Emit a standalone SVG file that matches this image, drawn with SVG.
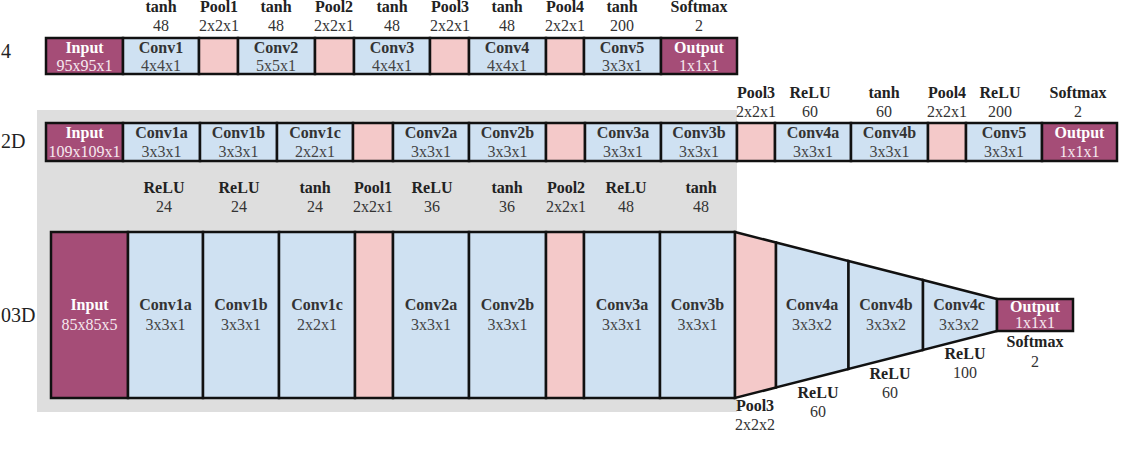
<svg xmlns="http://www.w3.org/2000/svg" width="1125" height="466" viewBox="0 0 1125 466">
<style>
text{font-family:"Liberation Serif","Times New Roman",serif;font-size:16px;text-anchor:middle}
.lb{font-weight:bold;fill:#222}
.lr{fill:#333}
.nb{font-weight:bold;fill:#333}
.nr{fill:#444}
.wb{font-weight:bold;fill:#ffffff}
.wr{fill:#f6e8ef}
.io{fill:#a54d77;stroke:#111;stroke-width:2.5}
.cv{fill:#cfe1f2;stroke:#111;stroke-width:2.5}
.pl{fill:#f4c9c9;stroke:#111;stroke-width:2.5}
.side{font-size:20px;fill:#222;text-anchor:start}
</style>
<rect width="1125" height="466" fill="#ffffff"/>
<rect x="37" y="110" width="700" height="302" fill="#dedede"/>
<text class="side" x="1" y="58">4</text>
<text class="side" x="1" y="148">2D</text>
<text class="side" x="1" y="322">03D</text>

<g id="row1">
<g id="r1-input"><rect class="io" x="46" y="38" width="77" height="36"/><text class="wb" x="84.5" y="53">Input</text><text class="wr" x="84.5" y="71">95x95x1</text></g>
<g id="r1-conv1"><text class="lb" x="161" y="12">tanh</text><text class="lr" x="161" y="31">48</text><rect class="cv" x="123" y="38" width="76" height="36"/><text class="nb" x="161" y="53">Conv1</text><text class="nr" x="161" y="71">4x4x1</text></g>
<g id="r1-pool1"><text class="lb" x="219" y="12">Pool1</text><text class="lr" x="219" y="31">2x2x1</text><rect class="pl" x="199" y="38" width="39" height="36"/></g>
<g id="r1-conv2"><text class="lb" x="276" y="12">tanh</text><text class="lr" x="276" y="31">48</text><rect class="cv" x="238" y="38" width="77" height="36"/><text class="nb" x="276" y="53">Conv2</text><text class="nr" x="276" y="71">5x5x1</text></g>
<g id="r1-pool2"><text class="lb" x="334" y="12">Pool2</text><text class="lr" x="334" y="31">2x2x1</text><rect class="pl" x="315" y="38" width="39" height="36"/></g>
<g id="r1-conv3"><text class="lb" x="392" y="12">tanh</text><text class="lr" x="392" y="31">48</text><rect class="cv" x="354" y="38" width="76" height="36"/><text class="nb" x="392" y="53">Conv3</text><text class="nr" x="392" y="71">4x4x1</text></g>
<g id="r1-pool3"><text class="lb" x="450" y="12">Pool3</text><text class="lr" x="450" y="31">2x2x1</text><rect class="pl" x="430" y="38" width="39" height="36"/></g>
<g id="r1-conv4"><text class="lb" x="507" y="12">tanh</text><text class="lr" x="507" y="31">48</text><rect class="cv" x="469" y="38" width="77" height="36"/><text class="nb" x="507" y="53">Conv4</text><text class="nr" x="507" y="71">4x4x1</text></g>
<g id="r1-pool4"><text class="lb" x="565" y="12">Pool4</text><text class="lr" x="565" y="31">2x2x1</text><rect class="pl" x="546" y="38" width="38" height="36"/></g>
<g id="r1-conv5"><text class="lb" x="622" y="12">tanh</text><text class="lr" x="622" y="31">200</text><rect class="cv" x="584" y="38" width="77" height="36"/><text class="nb" x="622" y="53">Conv5</text><text class="nr" x="622" y="71">3x3x1</text></g>
<g id="r1-output"><text class="lb" x="699" y="12">Softmax</text><text class="lr" x="699" y="31">2</text><rect class="io" x="661" y="38" width="76" height="36"/><text class="wb" x="699" y="53">Output</text><text class="wr" x="699" y="71">1x1x1</text></g>
</g>

<g id="row2">
<g id="r2-input"><rect class="io" x="46" y="123" width="77" height="38"/><text class="wb" x="84.5" y="138">Input</text><text class="wr" x="84.5" y="157">109x109x1</text></g>
<g id="r2-conv1a"><rect class="cv" x="123" y="123" width="77" height="38"/><text class="nb" x="161.5" y="138">Conv1a</text><text class="nr" x="161.5" y="157">3x3x1</text></g>
<g id="r2-conv1b"><rect class="cv" x="200" y="123" width="77" height="38"/><text class="nb" x="238.5" y="138">Conv1b</text><text class="nr" x="238.5" y="157">3x3x1</text></g>
<g id="r2-conv1c"><rect class="cv" x="277" y="123" width="76" height="38"/><text class="nb" x="315" y="138">Conv1c</text><text class="nr" x="315" y="157">2x2x1</text></g>
<g id="r2-pool1"><rect class="pl" x="353" y="123" width="40" height="38"/></g>
<g id="r2-conv2a"><rect class="cv" x="393" y="123" width="76" height="38"/><text class="nb" x="431" y="138">Conv2a</text><text class="nr" x="431" y="157">3x3x1</text></g>
<g id="r2-conv2b"><rect class="cv" x="469" y="123" width="77" height="38"/><text class="nb" x="507.5" y="138">Conv2b</text><text class="nr" x="507.5" y="157">3x3x1</text></g>
<g id="r2-pool2"><rect class="pl" x="546" y="123" width="39" height="38"/></g>
<g id="r2-conv3a"><rect class="cv" x="585" y="123" width="76" height="38"/><text class="nb" x="623" y="138">Conv3a</text><text class="nr" x="623" y="157">3x3x1</text></g>
<g id="r2-conv3b"><rect class="cv" x="661" y="123" width="76" height="38"/><text class="nb" x="699" y="138">Conv3b</text><text class="nr" x="699" y="157">3x3x1</text></g>
<g id="r2-pool3"><text class="lb" x="756" y="98">Pool3</text><text class="lr" x="756" y="117">2x2x1</text><rect class="pl" x="737" y="123" width="38" height="38"/></g>
<g id="r2-conv4a"><text class="lb" x="810" y="98">ReLU</text><text class="lr" x="810" y="117">60</text><rect class="cv" x="775" y="123" width="76" height="38"/><text class="nb" x="813" y="138">Conv4a</text><text class="nr" x="813" y="157">3x3x1</text></g>
<g id="r2-conv4b"><text class="lb" x="884" y="98">tanh</text><text class="lr" x="884" y="117">60</text><rect class="cv" x="851" y="123" width="77" height="38"/><text class="nb" x="889.5" y="138">Conv4b</text><text class="nr" x="889.5" y="157">3x3x1</text></g>
<g id="r2-pool4"><text class="lb" x="947" y="98">Pool4</text><text class="lr" x="947" y="117">2x2x1</text><rect class="pl" x="928" y="123" width="38" height="38"/></g>
<g id="r2-conv5"><text class="lb" x="1000" y="98">ReLU</text><text class="lr" x="1000" y="117">200</text><rect class="cv" x="966" y="123" width="76" height="38"/><text class="nb" x="1004" y="138">Conv5</text><text class="nr" x="1004" y="157">3x3x1</text></g>
<g id="r2-output"><text class="lb" x="1078" y="98">Softmax</text><text class="lr" x="1078" y="117">2</text><rect class="io" x="1042" y="123" width="75" height="38"/><text class="wb" x="1079.5" y="138">Output</text><text class="wr" x="1079.5" y="157">1x1x1</text></g>
</g>

<g id="row3">
<g id="r3-input"><rect class="io" x="51" y="232" width="77" height="166"/><text class="wb" x="89.5" y="310">Input</text><text class="wr" x="89.5" y="330">85x85x5</text></g>
<g id="r3-conv1a"><text class="lb" x="164" y="193">ReLU</text><text class="lr" x="164" y="212">24</text><rect class="cv" x="128" y="232" width="75" height="166"/><text class="nb" x="165.5" y="310">Conv1a</text><text class="nr" x="165.5" y="330">3x3x1</text></g>
<g id="r3-conv1b"><text class="lb" x="239" y="193">ReLU</text><text class="lr" x="239" y="212">24</text><rect class="cv" x="203" y="232" width="76" height="166"/><text class="nb" x="241" y="310">Conv1b</text><text class="nr" x="241" y="330">3x3x1</text></g>
<g id="r3-conv1c"><text class="lb" x="315" y="193">tanh</text><text class="lr" x="315" y="212">24</text><rect class="cv" x="279" y="232" width="76" height="166"/><text class="nb" x="317" y="310">Conv1c</text><text class="nr" x="317" y="330">2x2x1</text></g>
<g id="r3-pool1"><text class="lb" x="373" y="193">Pool1</text><text class="lr" x="373" y="212">2x2x1</text><rect class="pl" x="355" y="232" width="38" height="166"/></g>
<g id="r3-conv2a"><text class="lb" x="432" y="193">ReLU</text><text class="lr" x="432" y="212">36</text><rect class="cv" x="393" y="232" width="76" height="166"/><text class="nb" x="431" y="310">Conv2a</text><text class="nr" x="431" y="330">3x3x1</text></g>
<g id="r3-conv2b"><text class="lb" x="507" y="193">tanh</text><text class="lr" x="507" y="212">36</text><rect class="cv" x="469" y="232" width="77" height="166"/><text class="nb" x="507.5" y="310">Conv2b</text><text class="nr" x="507.5" y="330">3x3x1</text></g>
<g id="r3-pool2"><text class="lb" x="566" y="193">Pool2</text><text class="lr" x="566" y="212">2x2x1</text><rect class="pl" x="546" y="232" width="38" height="166"/></g>
<g id="r3-conv3a"><text class="lb" x="626" y="193">ReLU</text><text class="lr" x="626" y="212">48</text><rect class="cv" x="584" y="232" width="76" height="166"/><text class="nb" x="622" y="310">Conv3a</text><text class="nr" x="622" y="330">3x3x1</text></g>
<g id="r3-conv3b"><text class="lb" x="701" y="193">tanh</text><text class="lr" x="701" y="212">48</text><rect class="cv" x="660" y="232" width="75" height="166"/><text class="nb" x="697.5" y="310">Conv3b</text><text class="nr" x="697.5" y="330">3x3x1</text></g>
<g id="r3-pool3"><polygon class="pl" points="735,232 776,242.5 776,387.5 735,398"/><text class="lb" x="755" y="411">Pool3</text><text class="lr" x="755" y="430">2x2x2</text></g>
<g id="r3-conv4a"><polygon class="cv" points="776,242.5 848.5,261 848.5,369 776,387.5"/><text class="nb" x="812" y="310">Conv4a</text><text class="nr" x="812" y="330">3x3x2</text><text class="lb" x="818" y="398">ReLU</text><text class="lr" x="818" y="417">60</text></g>
<g id="r3-conv4b"><polygon class="cv" points="848.5,261 923,280 923,350 848.5,369"/><text class="nb" x="886" y="310">Conv4b</text><text class="nr" x="886" y="330">3x3x2</text><text class="lb" x="890" y="379">ReLU</text><text class="lr" x="890" y="398">60</text></g>
<g id="r3-conv4c"><polygon class="cv" points="923,280 997,299 997,331 923,350"/><text class="nb" x="959" y="310">Conv4c</text><text class="nr" x="959" y="330">3x3x2</text><text class="lb" x="965" y="359">ReLU</text><text class="lr" x="965" y="378">100</text></g>
<g id="r3-output"><rect class="io" x="997" y="299" width="76" height="32"/><text class="wb" x="1035" y="312">Output</text><text class="wr" x="1035" y="328">1x1x1</text><text class="lb" x="1035" y="347">Softmax</text><text class="lr" x="1035" y="367">2</text></g>
</g>
<g id="connectors"></g>
</svg>
